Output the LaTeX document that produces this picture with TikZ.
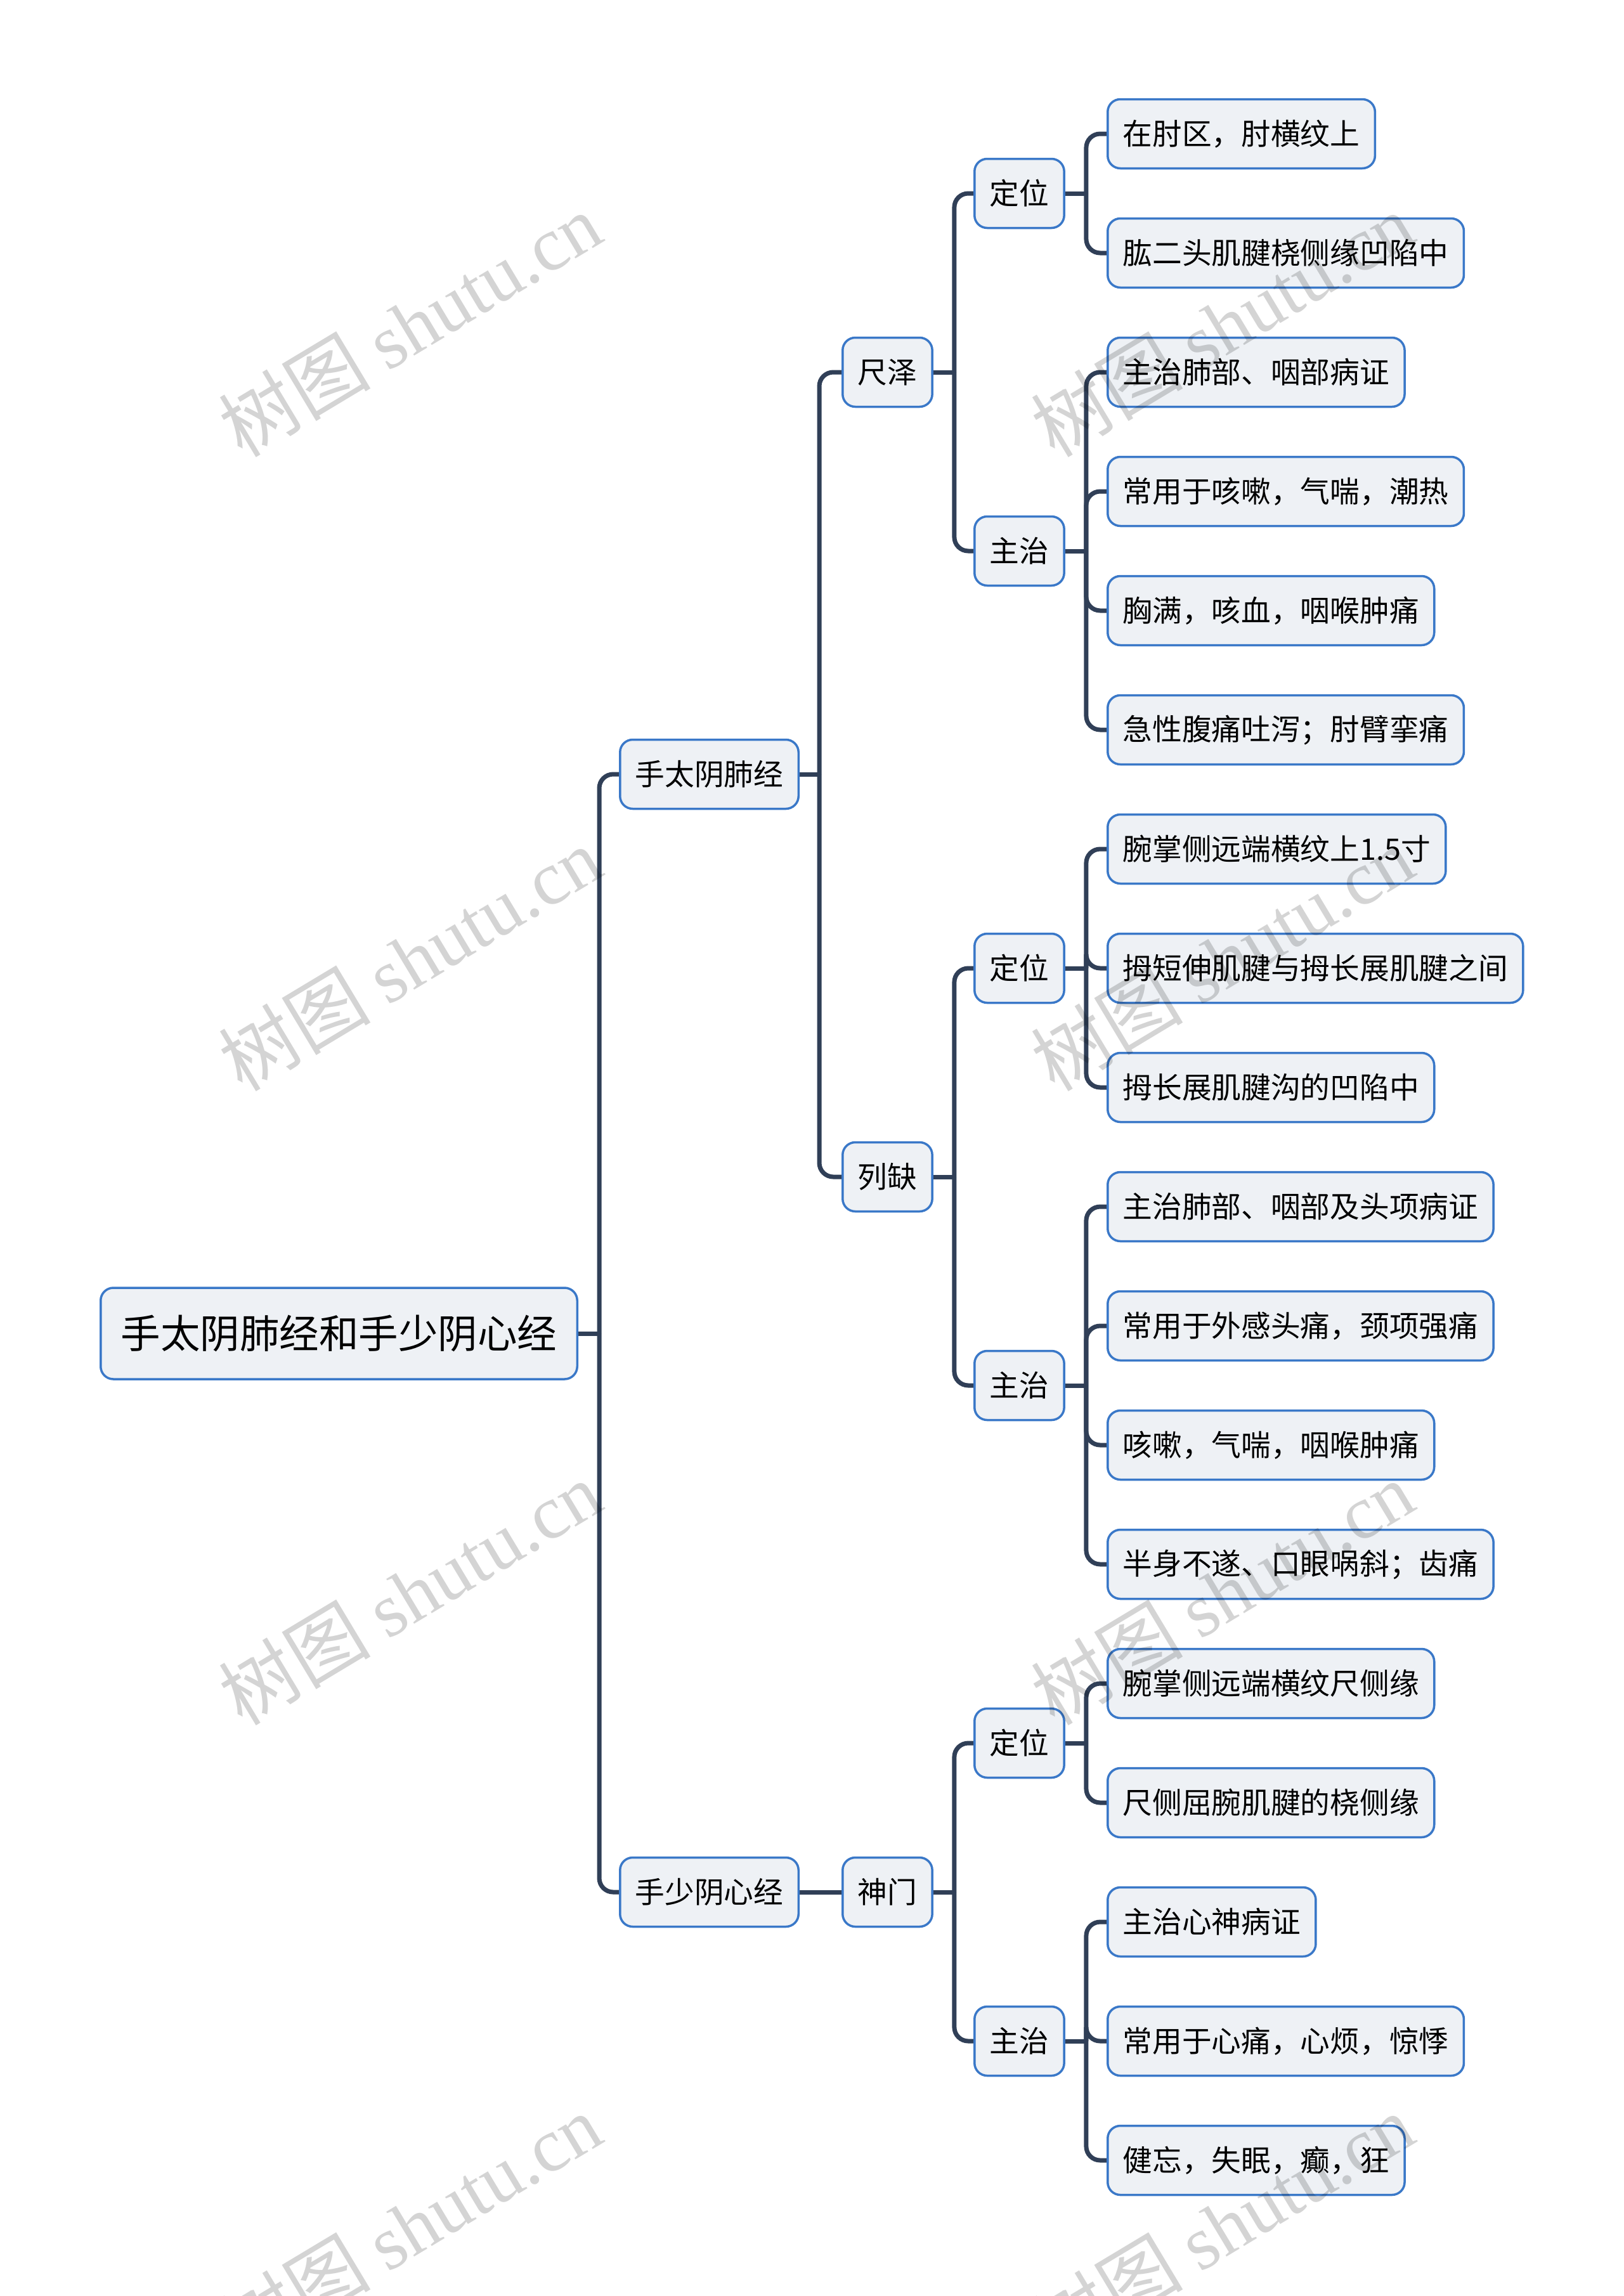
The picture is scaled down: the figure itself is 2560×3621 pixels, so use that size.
\documentclass[tikz,border=0pt]{standalone}
\usepackage{fontspec}
\setmainfont{Noto Sans CJK SC}
\newfontfamily\wmlatin{Liberation Serif}
\newfontfamily\wmcjk{Noto Sans CJK SC}
\pgfdeclarelayer{background}
\pgfsetlayers{background,main}
\definecolor{lineC}{HTML}{303F57}
\definecolor{boxB}{HTML}{3A78C8}
\definecolor{boxF}{HTML}{EEF1F5}
\newcommand\mybranch[3]{%
  \draw[conn] (#1.east) -- ++(#2,0) coordinate (#1-j);
  \foreach \c in {#3} {\draw[conn, rounded corners=22pt] (#1-j) |- (\c.west);}
}
\begin{document}
\begin{tikzpicture}[x=1pt,y=-1pt,
  box/.style={draw=boxB, line width=3.5pt, fill=boxF, rounded corners=20pt,
    minimum height=109pt, inner xsep=24pt, inner ysep=0pt,
    font=\fontsize{46.7}{56}\selectfont, text=black, anchor=west},
  rootbox/.style={box, minimum height=144pt, inner xsep=32pt,
    font=\fontsize{62.5}{75}\selectfont},
  conn/.style={draw=lineC, line width=7pt},
  wm/.style={text=black, text opacity=0.17, rotate=31, inner sep=0pt,
    font=\fontsize{120}{130}\selectfont}]
\useasboundingbox (0,0) rectangle (2560,3621);

% root and branches
\node[rootbox] (root) at (157,2103) {手太阴肺经和手少阴心经};
\node[box] (a) at (976,1221) {手太阴肺经};
\node[box] (b) at (976,2984) {手少阴心经};
\node[box] (a1) at (1327,587) {尺泽};
\node[box] (a2) at (1327,1856) {列缺};
\node[box] (b1) at (1327,2984) {神门};
\node[box] (a1d) at (1535,305) {定位};
\node[box] (a1z) at (1535,869) {主治};
\node[box] (a2d) at (1535,1527) {定位};
\node[box] (a2z) at (1535,2185) {主治};
\node[box] (b1d) at (1535,2749) {定位};
\node[box] (b1z) at (1535,3219) {主治};

% leaves
\node[box] (l0) at (1745,211) {在肘区，肘横纹上};
\node[box] (l1) at (1745,399) {肱二头肌腱桡侧缘凹陷中};
\node[box] (l2) at (1745,587) {主治肺部、咽部病证};
\node[box] (l3) at (1745,775) {常用于咳嗽，气喘，潮热};
\node[box] (l4) at (1745,963) {胸满，咳血，咽喉肿痛};
\node[box] (l5) at (1745,1151) {急性腹痛吐泻；肘臂挛痛};
\node[box] (l6) at (1745,1339) {腕掌侧远端横纹上1.5寸};
\node[box] (l7) at (1745,1527) {拇短伸肌腱与拇长展肌腱之间};
\node[box] (l8) at (1745,1715) {拇长展肌腱沟的凹陷中};
\node[box] (l9) at (1745,1903) {主治肺部、咽部及头项病证};
\node[box] (l10) at (1745,2091) {常用于外感头痛，颈项强痛};
\node[box] (l11) at (1745,2279) {咳嗽，气喘，咽喉肿痛};
\node[box] (l12) at (1745,2467) {半身不遂、口眼㖞斜；齿痛};
\node[box] (l13) at (1745,2655) {腕掌侧远端横纹尺侧缘};
\node[box] (l14) at (1745,2843) {尺侧屈腕肌腱的桡侧缘};
\node[box] (l15) at (1745,3031) {主治心神病证};
\node[box] (l16) at (1745,3219) {常用于心痛，心烦，惊悸};
\node[box] (l17) at (1745,3407) {健忘，失眠，癫，狂};

\begin{pgfonlayer}{background}
\fill[white] (0,0) rectangle (2560,3621);
\mybranch{root}{33}{a,b}
\mybranch{a}{31}{a1,a2}
\draw[conn] (b.east) -- (b1.west);
\mybranch{a1}{33}{a1d,a1z}
\mybranch{a2}{33}{a2d,a2z}
\mybranch{b1}{33}{b1d,b1z}
\mybranch{a1d}{33}{l0,l1}
\mybranch{a1z}{33}{l2,l3,l4,l5}
\mybranch{a2d}{33}{l6,l7,l8}
\mybranch{a2z}{33}{l9,l10,l11,l12}
\mybranch{b1d}{33}{l13,l14}
\mybranch{b1z}{33}{l15,l16,l17}
\end{pgfonlayer}

% watermarks
\foreach \wx/\wy [count=\i] in {646/512,646/1512,646/2512,646/3510,1927/512,1927/1512,1927/2512,1927/3510}
  {\node[wm] (wm\i) at (\wx,\wy) {\wmcjk 树图\ \wmlatin shutu.cn};}
\end{tikzpicture}
\end{document}
